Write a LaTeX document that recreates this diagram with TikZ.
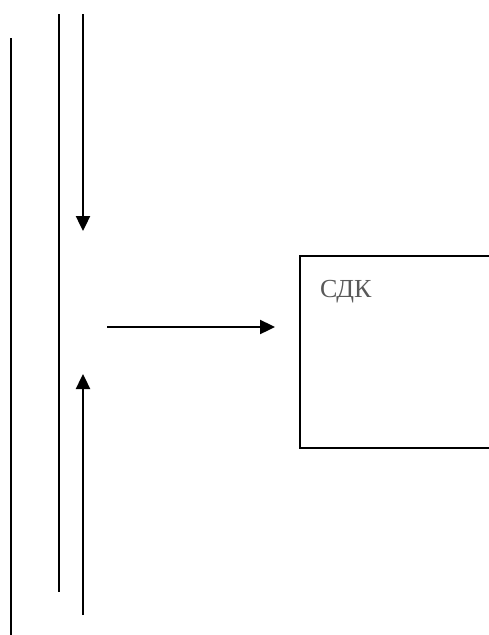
\documentclass[tikz,border=0pt]{standalone}
\usepackage{fontspec}
\setmainfont{Liberation Serif}
\usetikzlibrary{arrows.meta}
\definecolor{txtgray}{HTML}{595959}
\tikzset{
  wire/.style={line width=2.4pt, line cap=butt},
  arr/.style={wire, -{Triangle[length=15pt,width=14pt]}},
  boxnode/.style={draw, line width=2.4pt, minimum width=200pt, minimum height=192pt, anchor=north west, inner sep=0pt},
  lbl/.style={text=txtgray, font=\fontsize{26}{26}\selectfont, anchor=base west, inner sep=0pt}
}
\begin{document}
\begin{tikzpicture}[x=1pt,y=-1pt]
\useasboundingbox (0,0) rectangle (488,635);
% vertical lines
\coordinate (l1t) at (11,38);
\coordinate (l1b) at (11,635);
\coordinate (l2t) at (59,14);
\coordinate (l2b) at (59,592);
\draw[wire] (l1t) -- (l1b);
\draw[wire] (l2t) -- (l2b);
% down arrow
\coordinate (dt) at (83,14);
\coordinate (dh) at (83,231);
\draw[arr] (dt) -- (dh);
% up arrow
\coordinate (ub) at (83,615);
\coordinate (uh) at (83,374);
\draw[arr] (ub) -- (uh);
% box
\node[boxnode] (sdk) at (299,255) {};
\node[lbl] (sdklbl) at (320,297) {СДК};
% horizontal arrow
\coordinate (hs) at (107,327);
\coordinate (he) at (275,327);
\draw[arr] (hs) -- (he);
\end{tikzpicture}
\end{document}
